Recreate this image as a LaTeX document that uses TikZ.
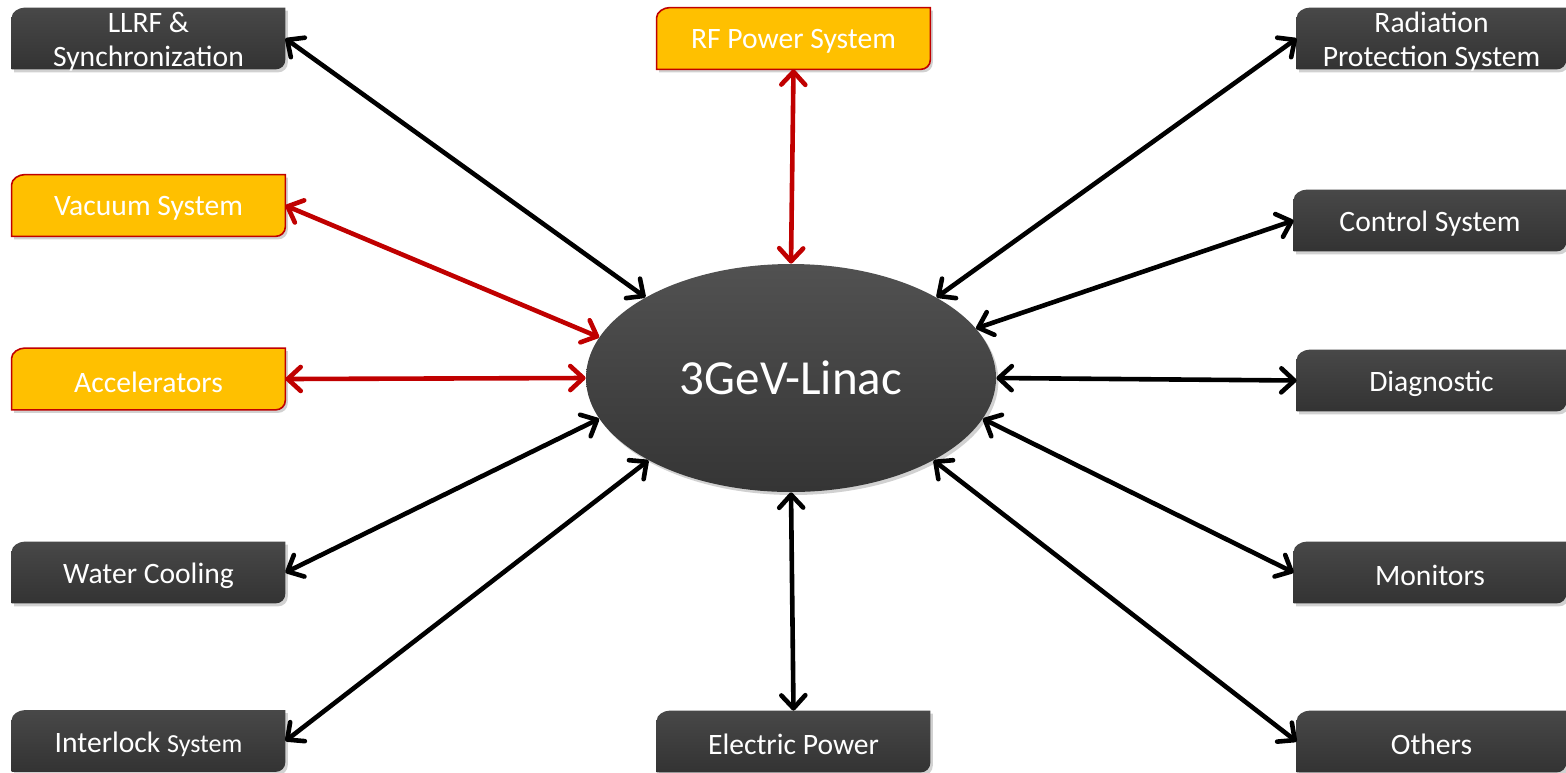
\documentclass[tikz,border=0pt]{standalone}
\usepackage{fontspec}
\setmainfont{Carlito}
\usetikzlibrary{arrows.meta,shadows,backgrounds,calc,shapes.geometric}
\definecolor{boxtop}{HTML}{484848}
\definecolor{boxbot}{HTML}{333333}
\definecolor{orangefill}{HTML}{FFC000}
\definecolor{redline}{HTML}{C00000}
\definecolor{linacfill}{HTML}{3E3E3E}
\tikzset{
  lbl/.style={inner sep=0pt, minimum height=30.5pt, text=white, align=center,
    font=\fontsize{14.8}{17}\selectfont},
  lblL/.style={lbl, minimum width=136.5pt},
  lblR/.style={lbl, minimum width=136pt},
  lblE/.style={lbl, minimum width=134.5pt},
  darkshape/.style={top color=boxtop, bottom color=boxbot,
    drop shadow={shadow xshift=1.2pt, shadow yshift=-1.5pt, opacity=0.3, fill=black!60}},
  orangeshape/.style={fill=orangefill, draw=redline, line width=0.8pt,
    drop shadow={shadow xshift=1.2pt, shadow yshift=-1.5pt, opacity=0.3, fill=black!60}},
  blackarrow/.style={draw=black, line width=2.3pt, line cap=round,
    {Straight Barb[length=6.5pt,width=12pt,round]}-{Straight Barb[length=6.5pt,width=12pt,round]}},
  redarrow/.style={blackarrow, draw=redline},
  linacnode/.style={ellipse, minimum width=205pt, minimum height=114pt, inner sep=0pt,
    top color=linacfill!90!white, bottom color=linacfill!85!black, text=white,
    font=\fontsize{24.5}{28}\selectfont,
    drop shadow={shadow xshift=1.2pt, shadow yshift=-1.5pt, opacity=0.3, fill=black!60}}
}
% shape drawn 1.5pt above the node so that the text sits a little lower in it
\newcommand{\boxpath}[2]{%
  \path[#2] ($(#1.north west)+(0,-3.5pt)$)
      .. controls ($(#1.north west)+(0,-0.7pt)$) and ($(#1.north west)+(3.5pt,1.5pt)$) .. ($(#1.north west)+(6.5pt,1.5pt)$)
    -- ($(#1.north east)+(0,1.5pt)$)
    -- ($(#1.south east)+(0,6.5pt)$)
      .. controls ($(#1.south east)+(0,3.5pt)$) and ($(#1.south east)+(-2.2pt,1.5pt)$) .. ($(#1.south east)+(-5pt,1.5pt)$)
    -- ($(#1.south west)+(0,1.5pt)$) -- cycle;}
\begin{document}
\begin{tikzpicture}[x=0.5pt,y=-0.5pt]
\useasboundingbox (0,0) rectangle (1566,772);
% center ellipse
\node[linacnode] (linac) at (791,378) {\raisebox{-1pt}{3GeV-Linac}};
% left column
\node[lblL] (llrf)  at (148.5,41.5) {LLRF \&\\Synchronization};
\node[lblL] (vac)   at (148.5,208.5) {Vacuum System};
\node[lblL] (acc)   at (148.5,382) {Accelerators};
\node[lblL] (water) at (148.5,575.5) {Water Cooling};
\node[lblL] (inter) at (148.5,744) {Interlock {\fontsize{13}{17}\selectfont System}};
% middle column
\node[lblL] (rf)    at (793.5,41.5) {RF Power System};
\node[lblL] (elec)  at (793.5,744.5) {Electric Power};
% right column
\node[lblE] (rad)    at (1431.5,41.5) {Radiation\\Protection System};
\node[lblR] (ctrl)   at (1430,223.5) {Control System};
\node[lblE] (diag)   at (1431.5,383.5) {Diagnostic};
\node[lblR] (mon)    at (1430,575.5) {Monitors};
\node[lblE] (others) at (1431.5,744.5) {Others};
\begin{scope}[on background layer]
  \foreach \n in {llrf,water,inter,elec,rad,ctrl,diag,mon,others} {\boxpath{\n}{darkshape}}
  \foreach \n in {rf,vac,acc} {\boxpath{\n}{orangeshape}}
\end{scope}
% connectors
\draw[blackarrow] ([yshift=1.5pt]llrf.east) -- (linac.151);
\draw[redarrow]   ([yshift=1.5pt]rf.south) -- (linac.north);
\draw[blackarrow] ([yshift=1.5pt]rad.west) -- (linac.29);
\draw[redarrow]   ([yshift=1.5pt]vac.east) -- (linac.168);
\draw[blackarrow] ([yshift=1.5pt]ctrl.west) -- (linac.15.5);
\draw[redarrow]   ([yshift=1.5pt]acc.east) -- (linac.west);
\draw[blackarrow] ([yshift=1.5pt]diag.west) -- (linac.east);
\draw[blackarrow] ([yshift=1.5pt]water.east) -- (linac.192);
\draw[blackarrow] ([yshift=1.5pt]mon.west) -- (linac.348);
\draw[blackarrow] ([yshift=1.5pt]inter.east) -- (linac.210);
\draw[blackarrow] ([yshift=1.5pt]elec.north) -- (linac.south);
\draw[blackarrow] ([yshift=1.5pt]others.west) -- (linac.330);
\end{tikzpicture}
\end{document}
